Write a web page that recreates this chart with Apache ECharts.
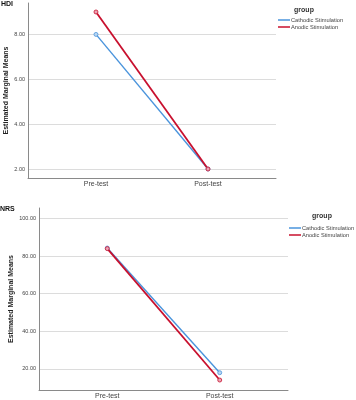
<!DOCTYPE html>
<html>
<head>
<meta charset="utf-8">
<script src="https://cdn.jsdelivr.net/npm/echarts@6/dist/echarts.min.js"></script>
<style>
  html, body { margin: 0; padding: 0; background: #fff; }
  #chart { width: 356px; height: 400px; }
</style>
</head>
<body>
<div id="chart"></div>
<script>
// categories (x positions 0 and 1)
const times = ['Pre-test', 'Post-test']
const groups = ['Cathodic Stimulation', 'Anodic Stimulation']

// HDI panel
const hdiCathodic = [8.0, 2.0]
const hdiAnodic = [9.0, 2.0]
const hdiTicks = [2, 4, 6, 8]

// NRS panel
const nrsCathodic = [84.3, 18.0]
const nrsAnodic = [84.0, 14.1]
const nrsTicks = [20, 40, 60, 80, 100]

const font = 'Liberation Sans, Arial, sans-serif'
const blue = '#4a94dc'
const red = '#c8102e'
const lineColors = [blue, red]

const toPairs = arr => arr.map((v, i) => [i, v])

function xAxisFor(gridIndex) {
  return {
    type: 'value',
    gridIndex,
    min: -0.607,
    max: 1.607,
    splitLine: { show: false },
    axisTick: { show: false, customValues: [0, 1] },
    axisLine: { show: true, onZero: false, lineStyle: { color: '#8a8a8a', width: 1 } },
    axisLabel: {
      customValues: [0, 1],
      formatter: v => times[Math.round(v)],
      fontSize: 7,
      fontFamily: font,
      color: '#444',
      margin: 3
    }
  }
}

function yAxisFor(gridIndex, min, max, ticks, gap) {
  return {
    type: 'value',
    gridIndex,
    min,
    max,
    name: 'Estimated Marginal Means',
    nameLocation: 'middle',
    nameGap: gap,
    nameMoveOverlap: false,
    nameTextStyle: { fontSize: 7, fontWeight: 'bold', fontFamily: font, color: '#222' },
    axisLine: { show: true, onZero: false, lineStyle: { color: '#8a8a8a', width: 1 } },
    axisTick: { show: false, customValues: ticks },
    splitLine: { show: true, lineStyle: { color: '#dcdcdc', width: 1 } },
    axisLabel: {
      customValues: ticks,
      formatter: v => v.toFixed(2),
      fontSize: 5.5,
      fontFamily: font,
      color: '#444',
      margin: 3
    }
  }
}

function seriesFor(name, data, idx, color, lineWidth, fill) {
  return {
    name,
    type: 'line',
    xAxisIndex: idx,
    yAxisIndex: idx,
    data: toPairs(data),
    symbol: 'circle',
    symbolSize: 4,
    lineStyle: { color, width: lineWidth },
    itemStyle: { color: fill, borderColor: color, borderWidth: 0.8 },
    emphasis: { disabled: true },
    animation: false
  }
}

function legendFor(left, top) {
  return {
    orient: 'vertical',
    left,
    top,
    data: groups.map((name, i) => ({ name, itemStyle: { color: lineColors[i], borderWidth: 0 } })),
    icon: 'rect',
    itemWidth: 12,
    itemHeight: 1.5,
    itemGap: 0,
    padding: 0,
    textStyle: { fontSize: 5.7, lineHeight: 7, fontFamily: font, color: '#444', padding: [0, 0, 0, -4] }
  }
}

const chart = echarts.init(document.getElementById('chart'))
chart.setOption({
  color: lineColors,
  animation: false,
  title: [
    { text: 'HDI', left: 1, top: 1, padding: 0, textStyle: { fontSize: 7, fontWeight: 'bold', fontFamily: font, color: '#111' } },
    { text: 'NRS', left: 0, top: 206, padding: 0, textStyle: { fontSize: 7, fontWeight: 'bold', fontFamily: font, color: '#111' } },
    { text: 'group', left: 304, top: 7, textAlign: 'center', padding: 0, textStyle: { fontSize: 7, fontWeight: 'bold', fontFamily: font, color: '#333' } },
    { text: 'group', left: 322, top: 213, textAlign: 'center', padding: 0, textStyle: { fontSize: 7, fontWeight: 'bold', fontFamily: font, color: '#333' } }
  ],
  legend: [legendFor(278, 16.5), legendFor(289, 224.5)],
  grid: [
    { left: 28, top: 3, width: 248, height: 175, outerBoundsMode: 'none' },
    { left: 39, top: 208, width: 249, height: 182, outerBoundsMode: 'none' }
  ],
  xAxis: [xAxisFor(0), xAxisFor(1)],
  yAxis: [yAxisFor(0, 1.6, 9.4, hdiTicks, 18), yAxisFor(1, 8.8, 105.6, nrsTicks, 24)],
  series: [
    seriesFor(groups[0], hdiCathodic, 0, blue, 1.4, '#b9d6f2'),
    seriesFor(groups[1], hdiAnodic, 0, red, 1.8, '#eaa4b4'),
    seriesFor(groups[0], nrsCathodic, 1, blue, 1.4, '#b9d6f2'),
    seriesFor(groups[1], nrsAnodic, 1, red, 1.8, '#eaa4b4')
  ]
})
</script>
</body>
</html>
